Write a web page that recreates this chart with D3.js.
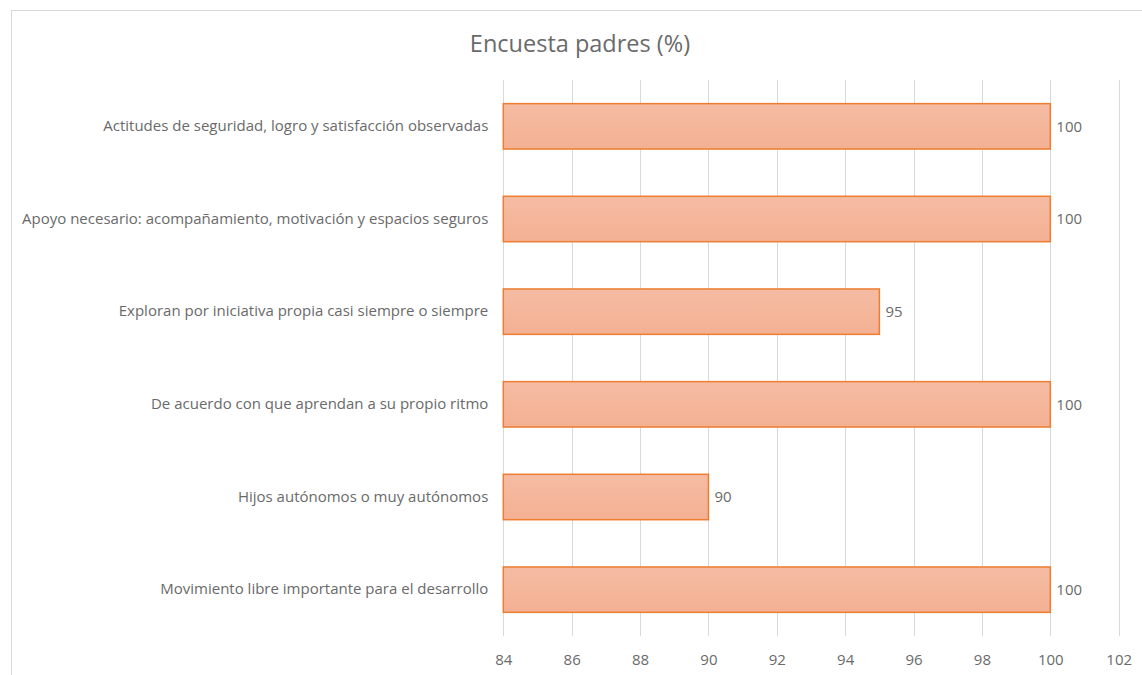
<!DOCTYPE html>
<html><head><meta charset="utf-8">
<script src="https://cdn.jsdelivr.net/npm/d3@7"></script>
<style>body{margin:0;background:#fff;} svg{display:block;}</style>
</head><body>
<svg id="c" width="1142" height="675"></svg>
<script>
const title = "Encuesta padres (%)";
const categories = [
  "Actitudes de seguridad, logro y satisfacción observadas",
  "Apoyo necesario: acompañamiento, motivación y espacios seguros",
  "Exploran por iniciativa propia casi siempre o siempre",
  "De acuerdo con que aprendan a su propio ritmo",
  "Hijos autónomos o muy autónomos",
  "Movimiento libre importante para el desarrollo"
];
const values = [100, 100, 95, 100, 90, 100];
const xTicks = [84, 86, 88, 90, 92, 94, 96, 98, 100, 102];

(function () {
const svg = d3.select("#c");
const font = "'Open Sans', sans-serif";
const grey = "#6a6a6a";

svg.append("rect").attr("x", 11.5).attr("y", 10.5).attr("width", 1200).attr("height", 700)
  .attr("fill", "#fff").attr("stroke", "#d9d9d9").attr("stroke-width", 1);

const pl = 503.3, pr = 1118.7, pt = 80, pb = 636;
const x = d3.scaleLinear().domain([84, 102]).range([pl, pr]);
const y = d3.scaleBand().domain(categories).range([pt, pb]).paddingInner(0.51).paddingOuter(0.255);

const defs = svg.append("defs");
const g = defs.append("linearGradient").attr("id", "bg").attr("x1", 0).attr("y1", 0).attr("x2", 0).attr("y2", 1);
g.append("stop").attr("offset", "0%").attr("stop-color", "#f5bca3");
g.append("stop").attr("offset", "100%").attr("stop-color", "#f4b093");

svg.append("g").selectAll("line").data(xTicks).join("line")
  .attr("x1", d => Math.round(x(d)) + 0.5).attr("x2", d => Math.round(x(d)) + 0.5)
  .attr("y1", pt).attr("y2", pb)
  .attr("stroke", "#d9d9d9").attr("stroke-width", 1);

const xAxis = d3.axisBottom(x).tickValues(xTicks).tickSize(0).tickPadding(0);
const ax = svg.append("g").attr("transform", `translate(0,${pb})`).call(xAxis);
ax.select(".domain").remove();
ax.selectAll("text").attr("dy", null).attr("y", 29).attr("fill", grey)
  .style("font-family", font).style("font-size", "15px");

svg.append("g").selectAll("rect").data(values).join("rect")
  .attr("x", x(84)).attr("y", (d, i) => y(categories[i]))
  .attr("width", d => x(d) - x(84)).attr("height", y.bandwidth())
  .attr("fill", "url(#bg)").attr("stroke", "#ed7d31").attr("stroke-width", 1.5);

svg.append("g").selectAll("text").data(values).join("text")
  .attr("x", d => x(d) + 6).attr("y", (d, i) => y(categories[i]) + y.bandwidth() / 2)
  .attr("dy", "0.35em").attr("fill", grey)
  .style("font-family", font).style("font-size", "15px").text(d => d);

const yAxis = d3.axisLeft(y).tickSize(0).tickPadding(15);
const ay = svg.append("g").attr("transform", `translate(${pl},0)`).call(yAxis);
ay.select(".domain").remove();
ay.selectAll("text").attr("fill", grey).style("font-family", font).style("font-size", "15px");

svg.append("text").attr("x", 580).attr("y", 52).attr("text-anchor", "middle")
  .attr("fill", grey).style("font-family", font).style("font-size", "23.5px").text(title);
})();
</script>
</body></html>
